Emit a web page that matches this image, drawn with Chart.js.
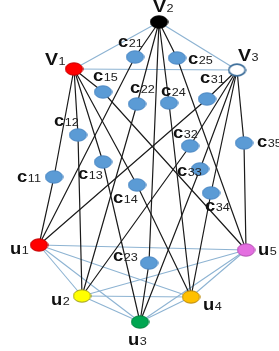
<!DOCTYPE html>
<html>
<head>
<meta charset="utf-8">
<script src="https://cdn.jsdelivr.net/npm/chart.js@4"></script>
<style>
html,body{margin:0;padding:0;background:#fff;}
#wrap{width:279px;height:351px;}
</style>
</head>
<body>
<div id="wrap"><canvas id="c" width="279" height="351"></canvas></div>
<script>
// ---- data ----
const nodeNames = ['V1','V2','V3',
  'c11','c12','c13','c14','c15',
  'c21','c22','c23','c24','c25',
  'c31','c32','c33','c34','c35',
  'u1','u2','u3','u4','u5'];
const nodeX = [74,159,237,
  54,78,103,137,103,
  135,137,149,169,177,
  207,190,200,211,244,
  39,82,140,191,246];
const nodeY = [69,22,70,
  177,135,162,185,92,
  57,104,263,103,58,
  99,146,169,193,143,
  245,296,322,297,250];
const blueEdges = [['V1','V2'],['V2','V3'],['V1','V3'],
  ['u1','u2'],['u1','u3'],['u1','u4'],['u1','u5'],
  ['u2','u3'],['u2','u4'],['u2','u5'],
  ['u3','u4'],['u3','u5'],['u4','u5']];
const blackPaths = [];
for (let i = 1; i <= 3; i++) for (let k = 1; k <= 5; k++) blackPaths.push(['V'+i, 'c'+i+k, 'u'+k]);

// ---- layout / style ----
const labelLeft = {V1:45,V2:153,V3:238,c11:17,c12:54,c13:78,c14:113,c15:93,
  c21:118,c22:130,c23:113,c24:161,c25:188,c31:200,c32:173,c33:177,c34:205,c35:257,
  u1:10,u2:51,u3:128,u4:203,u5:258};
const labelBase = {V1:65,V2:12,V3:61,c11:182,c12:126,c13:179,c14:203,c15:81,
  c21:47,c22:93,c23:261,c24:96,c25:64,c31:83,c32:138,c33:176,c34:211,c35:147,
  u1:254,u2:305,u3:345,u4:310,u5:255};
const nodeFill = {V1:'#ff0000',V2:'#000000',V3:'#ffffff',u1:'#ff0000',u2:'#ffff00',u3:'#00a651',u4:'#ffc000',u5:'#e46ee0'};
const nodeStroke = {V1:'#c00000',V2:'#000000',V3:'#41719c',u1:'#c00000',u2:'#9a9a20',u3:'#00803c',u4:'#b8860b',u5:'#b050b0'};

function ellipse(fill, stroke, lw){
  const w = 19, h = 14;
  const cv = document.createElement('canvas');
  cv.width = w; cv.height = h;
  const g = cv.getContext('2d');
  g.beginPath();
  g.ellipse(w/2, h/2, w/2 - lw/2 - 0.3, h/2 - lw/2 - 0.3, 0, 0, Math.PI*2);
  g.fillStyle = fill; g.fill();
  g.lineWidth = lw; g.strokeStyle = stroke; g.stroke();
  return cv;
}
const idx = n => nodeNames.indexOf(n);
const pt = n => ({x: nodeX[idx(n)], y: nodeY[idx(n)]});

const styles = nodeNames.map(n => n[0]==='c'
  ? ellipse('#5b9bd5','#4a86c2',1)
  : ellipse(nodeFill[n], nodeStroke[n], n==='V3'?1.8:1));

const datasets = [{
  data: nodeNames.map(pt),
  pointStyle: styles,
  pointRadius: 9,
  showLine: false,
  order: 0,
  clip: false
}];
blackPaths.forEach(p => datasets.push({
  data: p.map(pt), showLine: true, borderColor: '#1a1a1a', borderWidth: 1.2,
  pointRadius: 0, order: 1, clip: false, tension: 0
}));
blueEdges.forEach(e => datasets.push({
  data: e.map(pt), showLine: true, borderColor: '#8db3d2', borderWidth: 1.1,
  pointRadius: 0, order: 2, clip: false, tension: 0
}));

const labelPlugin = {
  id: 'labels',
  afterDatasetsDraw(chart){
    const ctx = chart.ctx, xs = chart.scales.x, ys = chart.scales.y;
    ctx.save();
    ctx.textBaseline = 'alphabetic';
    ctx.textAlign = 'left';
    nodeNames.forEach(n => {
      const x = xs.getPixelForValue(labelLeft[n]);
      const y = ys.getPixelForValue(labelBase[n]);
      const main = n[0], sub = n.slice(1);
      ctx.save();
      ctx.translate(x, y);
      ctx.scale(1.15, 1);
      ctx.fillStyle = '#111';
      ctx.font = (main==='V' ? 'bold 17px' : 'bold 16px') + ' "Liberation Sans", Arial, sans-serif';
      ctx.fillText(main, 0, 0);
      const w = ctx.measureText(main).width;
      ctx.font = '11px "Liberation Sans", Arial, sans-serif';
      ctx.fillStyle = '#222';
      ctx.fillText(sub, w + 0.5, 0);
      ctx.restore();
    });
    ctx.restore();
  }
};

new Chart(document.getElementById('c'), {
  type: 'scatter',
  data: { datasets },
  options: {
    responsive: false,
    animation: false,
    layout: { padding: 0, autoPadding: false },
    plugins: { legend: { display: false }, tooltip: { enabled: false } },
    scales: {
      x: { type: 'linear', min: 0, max: 279, display: false },
      y: { type: 'linear', min: 0, max: 351, reverse: true, display: false }
    }
  },
  plugins: [labelPlugin]
});
</script>
</body>
</html>
